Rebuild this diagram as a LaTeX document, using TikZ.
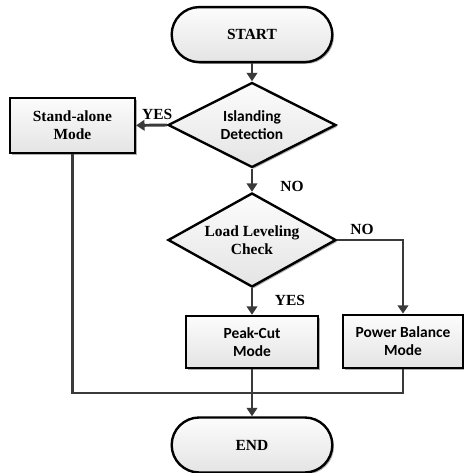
\documentclass[tikz,border=0pt]{standalone}
\usepackage{fontspec}
\setmainfont{Liberation Serif}
\newfontfamily\calfont{Carlito}
\usepackage{xcolor}
\definecolor{flowgray}{RGB}{58,58,58}
\definecolor{boxtop}{RGB}{252,252,252}
\definecolor{boxbottom}{RGB}{228,228,228}
\usepackage{tikz}
\usetikzlibrary{arrows.meta, positioning, shapes.geometric, shapes.misc, shadows}

\begin{document}
\begin{tikzpicture}[
    every node/.style={font=\fontsize{11}{12.5}\selectfont\bfseries, align=center},
    boxlook/.style={draw=black, line width=1.7pt, top color=boxtop, bottom color=boxbottom,
                    drop shadow={shadow xshift=1.2pt, shadow yshift=-1.2pt, fill=black!45, opacity=0.7}},
    terminal/.style={boxlook, rounded rectangle, minimum width=4.25cm, minimum height=1.375cm},
    decision/.style={boxlook, diamond, inner sep=0pt},
    modebox/.style={boxlook, rectangle, inner sep=1pt},
    flowline/.style={draw=flowgray, line width=2.1pt},
    flowarrow/.style={flowline, -{Triangle[length=6pt, width=7.5pt]}},
    lbl/.style={font=\fontsize{11}{12.5}\selectfont\bfseries}
  ]
  \useasboundingbox (0,0) rectangle (11.6,11.825);

  % --- Terminals ---
  \node[terminal] (start) at (6.3,10.96) {START};
  \node[terminal] (end)   at (6.3,0.7)   {END};

  % --- Decisions ---
  \node[decision, aspect=2.0, minimum width=4.2cm, minimum height=2.125cm]
       (island) at (6.3,8.7) {\calfont Islanding\\\calfont Detection};
  \node[decision, aspect=1.8, minimum width=4.2cm, minimum height=2.35cm]
       (leveling) at (6.3,5.825) {Load Leveling\\Check};

  % --- Operating modes ---
  \node[modebox, minimum width=3.125cm, minimum height=1.375cm]
       (standalone) at (1.81,8.69) {Stand-alone\\Mode};
  \node[modebox, minimum width=3.3cm, minimum height=1.3cm]
       (peakcut) at (6.3,3.275) {\calfont Peak-Cut\\\calfont Mode};
  \node[modebox, minimum width=3.0cm, minimum height=1.325cm]
       (balance) at (10.075,3.29) {\calfont Power Balance\\\calfont Mode};

  % Merge point above END
  \coordinate (merge) at (6.3,2.0);

  % --- Connectors ---
  \draw[flowarrow] (start.south) -- (island.north);
  \draw[flowarrow] (island.west) -- (standalone.east);
  \draw[flowarrow] (island.south) -- (leveling.north);
  \draw[flowarrow] (leveling.east) -| (balance.north);
  \draw[flowarrow] (leveling.south) -- (peakcut.north);
  \draw[flowline] (standalone.south) |- (merge) -| (balance.south);
  \draw[flowarrow] (peakcut.south) -- (end.north);

  % --- Branch labels ---
  \node[lbl] (yesisl) at (3.93,8.97) {YES};
  \node[lbl] (noisl)  at (7.3,7.17)  {NO};
  \node[lbl] (nolev)  at (9.05,6.08) {NO};
  \node[lbl] (yeslev) at (7.25,4.32) {YES};
\end{tikzpicture}
\end{document}
